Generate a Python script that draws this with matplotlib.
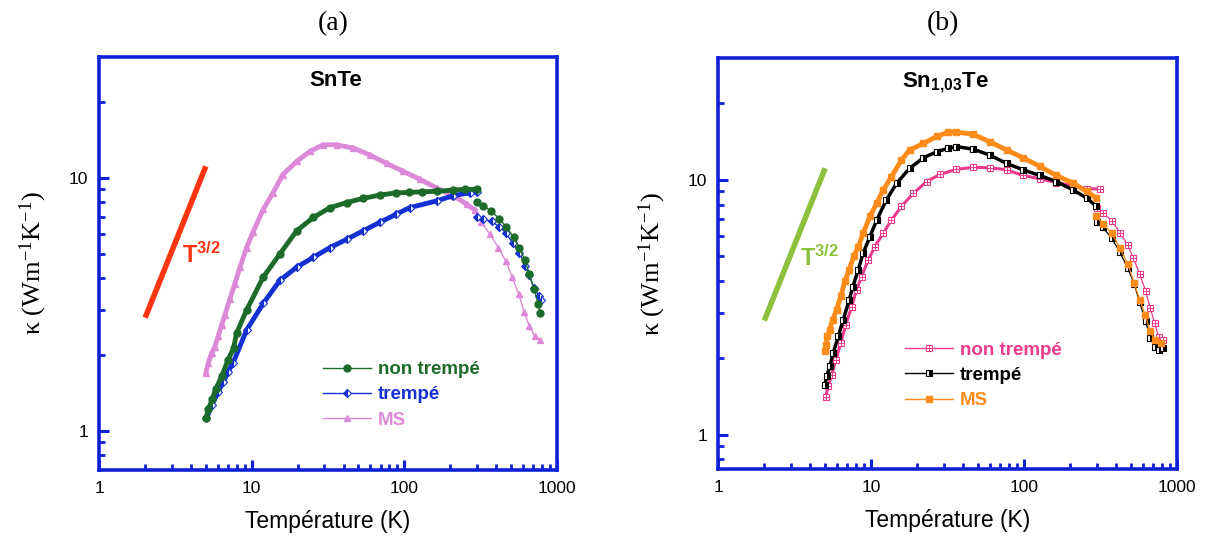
import matplotlib
matplotlib.use('Agg')
import matplotlib.pyplot as plt
from matplotlib.lines import Line2D
from matplotlib.legend_handler import HandlerTuple
from matplotlib.ticker import FixedLocator, NullFormatter

plt.rcParams['font.family'] = ['Liberation Sans', 'DejaVu Sans']
plt.rcParams['mathtext.fontset'] = 'custom'
plt.rcParams['mathtext.rm'] = 'Liberation Serif'
plt.rcParams['mathtext.it'] = 'Liberation Serif:italic'
plt.rcParams['mathtext.bf'] = 'Liberation Sans:bold'

# ---- (a) SnTe ----
a_nt_T_lo = [5.0, 5.2, 5.5, 5.8, 6.35, 7.0, 7.6, 7.95, 9.25, 11.9, 15.3, 19.7, 25.4, 32.6, 41.9,
             53.8, 69, 88.8, 108, 130, 163, 210, 250, 300]
a_nt_k_lo = [1.12, 1.22, 1.33, 1.46, 1.64, 1.91, 2.12, 2.43, 3.0, 4.05, 5.0, 6.17, 6.97, 7.62, 7.98,
             8.29, 8.54, 8.72, 8.75, 8.8, 8.84, 8.94, 9.0, 9.0]
a_nt_T_hi = [302, 330, 370, 420, 466, 522, 570, 617, 661, 707, 759, 777]
a_nt_k_hi = [8.03, 7.75, 7.4, 6.9, 6.4, 5.82, 5.28, 4.74, 4.18, 3.65, 3.16, 2.91]

a_tr_T_lo = [5.05, 5.5, 6.0, 6.5, 7.0, 7.56, 9.25, 11.9, 15.3, 19.7, 25.4, 32.6, 41.9, 53.8, 69,
             88.8, 108.6, 163, 210, 269, 300]
a_tr_k_lo = [1.12, 1.27, 1.42, 1.56, 1.71, 1.86, 2.5, 3.19, 3.93, 4.43, 4.85, 5.3, 5.71, 6.17, 6.66,
             7.18, 7.62, 8.1, 8.5, 8.72, 8.8]
a_tr_T_hi = [300, 330, 375, 420, 464, 515, 570, 622, 661, 710, 765, 790]
a_tr_k_hi = [6.97, 6.87, 6.72, 6.4, 6.06, 5.51, 5.04, 4.5, 4.11, 3.67, 3.4, 3.28]

a_ms_T_lo = [5.0, 5.18, 5.46, 5.73, 6.02, 6.35, 6.67, 7.2, 7.76, 8.37, 9.25, 10.2, 11.9, 13.8, 16.0,
             19.7, 24, 29.4, 36, 46.4, 59.6, 76.6, 98.6, 127, 163, 210, 257, 290]
a_ms_k_lo = [1.69, 1.85, 2.03, 2.15, 2.36, 2.62, 2.87, 3.33, 3.82, 4.43, 5.3, 6.1, 7.5, 8.72, 10.3,
             11.6, 12.7, 13.5, 13.5, 13.1, 12.3, 11.4, 10.6, 9.85, 9.12, 8.5, 7.86, 7.46]
a_ms_T_hi = [321, 364, 414, 464, 510, 565, 610, 661, 720, 777]
a_ms_k_hi = [6.66, 6.0, 5.3, 4.68, 4.06, 3.46, 2.96, 2.6, 2.36, 2.29]

# ---- (b) Sn1,03Te ----
b_nt_T_lo = [5.05, 5.25, 5.52, 5.89, 6.33, 6.84, 7.46, 8.03, 8.66, 9.58, 10.6, 12.0, 13.6, 15.8,
             18.9, 23.1, 28.2, 36.2, 46.6, 59.8, 77, 98.7, 127, 163, 210, 258, 314]
b_nt_k_lo = [1.41, 1.55, 1.72, 1.97, 2.29, 2.7, 3.18, 3.7, 4.17, 4.85, 5.47, 6.17, 6.96, 7.86,
             8.85, 9.85, 10.5, 11.0, 11.2, 11.15, 10.95, 10.4, 10.1, 9.76, 9.47, 9.23, 9.2]
b_nt_T_hi = [302, 330, 376, 425, 478, 520, 573, 625, 670, 718, 762, 808]
b_nt_k_hi = [7.75, 7.41, 6.9, 6.2, 5.56, 4.93, 4.27, 3.67, 3.14, 2.74, 2.41, 2.36]

b_tr_T_lo = [4.99, 5.12, 5.37, 5.65, 6.1, 6.57, 7.19, 7.6, 8.25, 8.88, 9.82, 10.9, 12.6, 14.7,
             17.9, 22, 26.9, 32, 36.2, 46.6, 59.8, 77, 98.7, 127, 163, 210, 258, 298]
b_tr_k_lo = [1.57, 1.69, 1.85, 2.09, 2.43, 2.82, 3.38, 3.81, 4.44, 5.16, 5.98, 6.96, 8.35, 9.7,
             11.1, 12.2, 12.9, 13.3, 13.5, 13.2, 12.5, 11.6, 10.95, 10.4, 9.85, 9.12, 8.48, 7.86]
b_tr_T_hi = [302, 327, 376, 425, 478, 527, 573, 626, 670, 718, 762, 808]
b_tr_k_hi = [6.8, 6.52, 5.9, 5.19, 4.5, 3.9, 3.3, 2.78, 2.39, 2.21, 2.14, 2.19]

b_ms_T_lo = [5.0, 5.05, 5.17, 5.37, 5.6, 5.95, 6.33, 6.74, 7.19, 7.7, 8.25, 8.88, 9.82, 10.9, 12.0,
             13.6, 15.8, 17.9, 22, 26.9, 32, 36.2, 46.6, 59.8, 77, 98.7, 127, 163, 210, 258, 298]
b_ms_k_lo = [2.12, 2.25, 2.43, 2.58, 2.82, 3.09, 3.49, 3.99, 4.44, 5.0, 5.47, 6.17, 7.18, 8.1, 9.12,
             10.3, 11.96, 13.1, 13.9, 14.8, 15.4, 15.4, 15.1, 14.1, 13.1, 12.2, 11.3, 10.4, 9.7, 9.0, 8.48]
b_ms_T_hi = [298, 330, 376, 425, 478, 527, 573, 622, 670, 718, 784]
b_ms_k_hi = [7.18, 6.7, 6.17, 5.4, 4.68, 3.93, 3.38, 2.95, 2.56, 2.34, 2.29]

# droite de pente 3/2
t32_T = [2.0, 5.0]
t32_k = [2.8, 11.1]

labels = ['non trempé', 'trempé', 'MS']

BLUE = '#1020d8'
GREEN_A = '#1d6b2a'
BLUE_A = '#1530d0'
VIOLET_A = '#dc8ad8'
RED = '#ff3512'
PINK_B = '#ee3a8c'
ORANGE_B = '#ff8c1a'
OLIVE_B = '#8dc03c'

fig = plt.figure(figsize=(12.06, 5.4), dpi=100)
ax1 = fig.add_axes([0.0823, 0.1296, 0.3793, 0.7648])
ax2 = fig.add_axes([0.5956, 0.1309, 0.3801, 0.7611])


def style_axes(ax, ymin):
    ax.set_xscale('log')
    ax.set_yscale('log')
    ax.set_xlim(1, 1000)
    ax.set_ylim(ymin, 30)
    for side in ['left', 'right', 'top', 'bottom']:
        ax.spines[side].set_color(BLUE)
        ax.spines[side].set_linewidth(2.6)
    ax.xaxis.set_major_locator(FixedLocator([1, 10, 100, 1000]))
    ax.xaxis.set_minor_locator(FixedLocator([2, 3, 4, 5, 6, 7, 8, 9, 20, 30, 40, 50, 60, 70, 80, 90,
                                             200, 300, 400, 500, 600, 700, 800, 900]))
    ax.yaxis.set_major_locator(FixedLocator([1, 10]))
    ax.yaxis.set_minor_locator(FixedLocator([0.8, 0.9, 2, 3, 4, 5, 6, 7, 8, 9, 20]))
    ax.set_xticklabels(['1', '10', '100', '1000'])
    ax.set_yticklabels(['1', '10'])
    ax.xaxis.set_minor_formatter(NullFormatter())
    ax.yaxis.set_minor_formatter(NullFormatter())
    ax.tick_params(which='major', direction='in', length=7.5, width=2.2, color=BLUE,
                   labelsize=12.5, pad=8, top=False, right=False)
    ax.tick_params(which='minor', direction='in', length=4.5, width=2.0, color=BLUE,
                   top=False, right=False)
    ax.set_xlabel('Température (K)', fontsize=16.5, labelpad=10)
    ax.set_ylabel('κ (Wm$^{-1}$K$^{-1}$)', fontsize=19, family=['Liberation Serif', 'DejaVu Serif'],
                  labelpad=14)


style_axes(ax1, 0.7)
style_axes(ax2, 0.73)

# ---- panneau (a) ----
ax1.plot(t32_T, t32_k, color=RED, lw=4, solid_capstyle='butt')
ax1.text(0.181, 0.501, r'$\mathbf{T^{3/2}}$', transform=ax1.transAxes, color=RED,
         fontsize=17, va='baseline', ha='left')

ax1.plot(a_ms_T_lo, a_ms_k_lo, color=VIOLET_A, lw=3.5, marker='^', ms=5)
ax1.plot(a_ms_T_hi, a_ms_k_hi, color=VIOLET_A, lw=1, marker='^', ms=5)
ax1.plot(a_tr_T_lo, a_tr_k_lo, color=BLUE_A, lw=3.5, marker='D', ms=4.5, fillstyle='left',
         markerfacecoloralt='white', mec=BLUE_A, mew=0.8)
ax1.plot(a_tr_T_hi, a_tr_k_hi, color=BLUE_A, lw=1, marker='D', ms=4.5, fillstyle='left',
         markerfacecoloralt='white', mec=BLUE_A, mew=0.8)
ax1.plot(a_nt_T_lo, a_nt_k_lo, color=GREEN_A, lw=3.5, marker='o', ms=5)
ax1.plot(a_nt_T_hi, a_nt_k_hi, color=GREEN_A, lw=1, marker='o', ms=5)

ax1.text(0.5175, 0.929, 'SnTe', transform=ax1.transAxes, ha='center', va='baseline',
         fontsize=16, fontweight='bold')

h_a = [Line2D([], [], color=GREEN_A, lw=1, marker='o', ms=5),
       Line2D([], [], color=BLUE_A, lw=1, marker='D', ms=4.5, fillstyle='left',
              markerfacecoloralt='white', mec=BLUE_A, mew=0.8),
       Line2D([], [], color=VIOLET_A, lw=1, marker='^', ms=5)]
leg1 = ax1.legend(h_a, labels, loc='upper left', bbox_to_anchor=(0.49, 0.264), frameon=False,
                  numpoints=1, handlelength=2.55, handletextpad=0.35, labelspacing=0.44,
                  borderpad=0, borderaxespad=0,
                  prop={'family': 'Liberation Sans', 'weight': 'bold', 'size': 13.5},
                  labelcolor=[GREEN_A, BLUE_A, VIOLET_A])

# ---- panneau (b) ----
ax2.plot(t32_T, t32_k, color=OLIVE_B, lw=4, solid_capstyle='butt')
ax2.text(0.178, 0.495, r'$\mathbf{T^{3/2}}$', transform=ax2.transAxes, color=OLIVE_B,
         fontsize=17, va='baseline', ha='left')

ax2.plot(b_nt_T_lo, b_nt_k_lo, color=PINK_B, lw=2.2, marker='s', ms=5, mfc='white', mec=PINK_B, mew=0.8)
ax2.plot(b_nt_T_lo, b_nt_k_lo, ls='none', marker='+', ms=4, mec=PINK_B, mew=0.7)
ax2.plot(b_nt_T_hi, b_nt_k_hi, color=PINK_B, lw=0.9, marker='s', ms=5, mfc='white', mec=PINK_B, mew=0.8)
ax2.plot(b_nt_T_hi, b_nt_k_hi, ls='none', marker='+', ms=4, mec=PINK_B, mew=0.7)
ax2.plot(b_tr_T_lo, b_tr_k_lo, color='black', lw=2.5, marker='s', ms=5, fillstyle='right',
         markerfacecoloralt='white', mec='black', mew=0.8)
ax2.plot(b_tr_T_hi, b_tr_k_hi, color='black', lw=0.9, marker='s', ms=5, fillstyle='right',
         markerfacecoloralt='white', mec='black', mew=0.8)
ax2.plot(b_ms_T_lo, b_ms_k_lo, color=ORANGE_B, lw=3.5, marker='s', ms=5)
ax2.plot(b_ms_T_hi, b_ms_k_hi, color=ORANGE_B, lw=0.9, marker='s', ms=5)

ax2.text(0.4946, 0.930, r'Sn$_{\mathbf{1{,}03}}$Te', transform=ax2.transAxes, ha='center',
         va='baseline', fontsize=16, fontweight='bold')

h_b = [(Line2D([], [], color=PINK_B, lw=1, marker='s', ms=5, mfc='white', mec=PINK_B, mew=0.8),
        Line2D([], [], ls='none', marker='+', ms=4, mec=PINK_B, mew=0.7)),
       Line2D([], [], color='black', lw=1, marker='s', ms=5, fillstyle='right',
              markerfacecoloralt='white', mec='black', mew=0.8),
       Line2D([], [], color=ORANGE_B, lw=1, marker='s', ms=5)]
leg2 = ax2.legend(h_b, labels, loc='upper left', bbox_to_anchor=(0.408, 0.311), frameon=False,
                  numpoints=1, handlelength=2.55, handletextpad=0.35, labelspacing=0.44,
                  borderpad=0, borderaxespad=0,
                  handler_map={tuple: HandlerTuple(ndivide=1, pad=0)},
                  prop={'family': 'Liberation Sans', 'weight': 'bold', 'size': 13.5},
                  labelcolor=[PINK_B, 'black', ORANGE_B])

fig.text(0.2765, 0.957, '(a)', ha='center', va='center', fontsize=20, family='Liberation Serif')
fig.text(0.782, 0.957, '(b)', ha='center', va='center', fontsize=20, family='Liberation Serif')

fig.savefig('out.png', dpi=100)
